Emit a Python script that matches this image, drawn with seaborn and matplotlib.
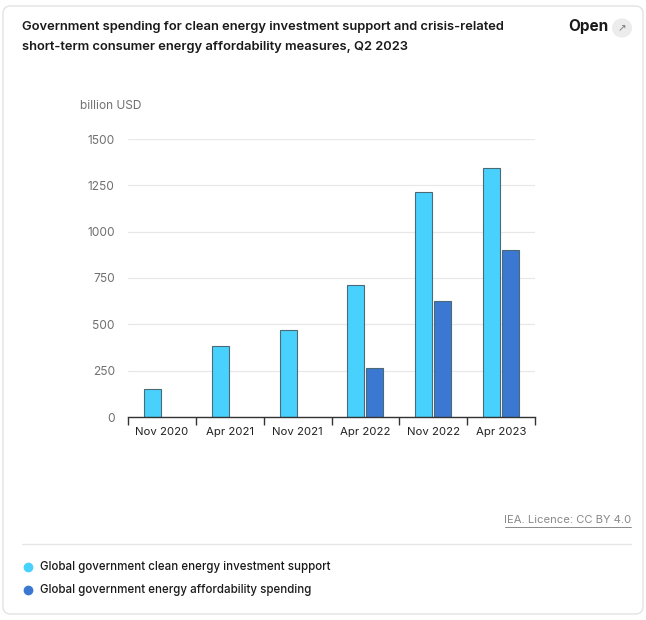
import numpy as np
import pandas as pd
import matplotlib
matplotlib.use("Agg")
import matplotlib.pyplot as plt
import seaborn as sns
from matplotlib.patches import FancyBboxPatch, Circle
from matplotlib.lines import Line2D

categories = ["Nov 2020", "Apr 2021", "Nov 2021", "Apr 2022", "Nov 2022", "Apr 2023"]
series_names = ["Global government clean energy investment support",
                "Global government energy affordability spending"]
clean_energy = [151, 383, 470, 712, 1212, 1342]
affordability = [np.nan, np.nan, np.nan, 265, 625, 901]
y_ticks = [0, 250, 500, 750, 1000, 1250, 1500]
colors = ["#48d1fc", "#3b78d1"]

df = pd.DataFrame({
    "period": categories * 2,
    "value": clean_energy + affordability,
    "series": [series_names[0]] * len(categories) + [series_names[1]] * len(categories),
})

sns.set_style("white")
plt.rcParams["font.family"] = ["Inter", "DejaVu Sans"]

W, H = 646, 620
fig = plt.figure(figsize=(W / 100, H / 100), dpi=100)

# card background
card = FancyBboxPatch((3 / W, 6 / H), (W - 6) / W, (H - 12) / H,
                      boxstyle="round,pad=0,rounding_size=0.012",
                      transform=fig.transFigure, facecolor="white",
                      edgecolor="#e3e3e3", linewidth=1.0, zorder=-5)
fig.patches.append(card)

ax = fig.add_axes([128 / W, 1 - 417 / H, (535 - 128) / W, (417 - 139) / H])
sns.barplot(data=df, x="period", y="value", hue="series", order=categories,
            hue_order=series_names, palette=colors, saturation=1, width=0.56, gap=0.1,
            edgecolor="#4a6a78", linewidth=0.8, legend=False, ax=ax, zorder=3)

ax.set_ylim(0, 1500)
ax.set_xlim(-0.5, len(categories) - 0.5)
ax.set_yticks(y_ticks)
ax.set_yticklabels([str(t) for t in y_ticks], color="#707070", fontsize=8.6)
ax.yaxis.grid(True, color="#e8e8e8", linewidth=0.9, zorder=0)
ax.set_axisbelow(True)
for s in ["top", "right", "left"]:
    ax.spines[s].set_visible(False)
ax.spines["bottom"].set_color("#333333")
ax.spines["bottom"].set_linewidth(1.0)
ax.spines["bottom"].set_zorder(4)
ax.set_xlabel("")
ax.set_ylabel("")
ax.tick_params(axis="y", left=False, length=0, pad=9.5)
ax.tick_params(axis="x", which="major", bottom=False, length=0, pad=7, labelsize=8.2,
               labelcolor="#222222")
ax.set_xticks(np.arange(-0.5, len(categories)), minor=True)
ax.tick_params(axis="x", which="minor", bottom=True, length=6, width=1.0,
               color="#333333", direction="out")

fig.text(80 / W, 1 - 106 / H, "billion USD", fontsize=8.6, color="#707070",
         va="center", ha="left")

# title
fig.text(22 / W, 1 - 27 / H, "Government spending for clean energy investment support and crisis-related",
         fontsize=9.3, fontweight="semibold", color="#1a1a1a", va="center", ha="left")
fig.text(22 / W, 1 - 47 / H, "short-term consumer energy affordability measures, Q2 2023",
         fontsize=9.3, fontweight="semibold", color="#1a1a1a", va="center", ha="left")
fig.text(568 / W, 1 - 27 / H, "Open", fontsize=11, fontweight="bold", color="#1a1a1a",
         va="center", ha="left")
circ = Circle((622 / W, 1 - 28 / H), 10 / W, transform=fig.transFigure,
              facecolor="#ececec", edgecolor="none")
fig.patches.append(circ)
fig.text(622 / W, 1 - 28 / H, "\u2197", fontsize=7.5, color="#777777", ha="center", va="center",
         family=["DejaVu Sans"])

# source
fig.text(631 / W, 1 - 520 / H, "IEA. Licence: CC BY 4.0", fontsize=8.1,
         color="#8a8a8a", ha="right", va="center")
fig.add_artist(Line2D([505 / W, 631 / W], [1 - 527 / H, 1 - 527 / H], color="#8a8a8a",
                      linewidth=0.7, transform=fig.transFigure))

# separator
fig.add_artist(Line2D([22 / W, 631 / W], [1 - 544 / H, 1 - 544 / H], color="#e6e6e6",
                      linewidth=1.0, transform=fig.transFigure))

# legend
for i, (name, c) in enumerate(zip(series_names, colors)):
    yy = 1 - (567 + 23 * i) / H
    fig.add_artist(Line2D([28 / W], [yy], marker="o", markersize=6, color=c,
                          linestyle="none", transform=fig.transFigure))
    fig.text(40 / W, yy, name, fontsize=8.3, fontweight="medium", color="#1a1a1a",
             va="center", ha="left")

fig.savefig("out.png", dpi=100)
